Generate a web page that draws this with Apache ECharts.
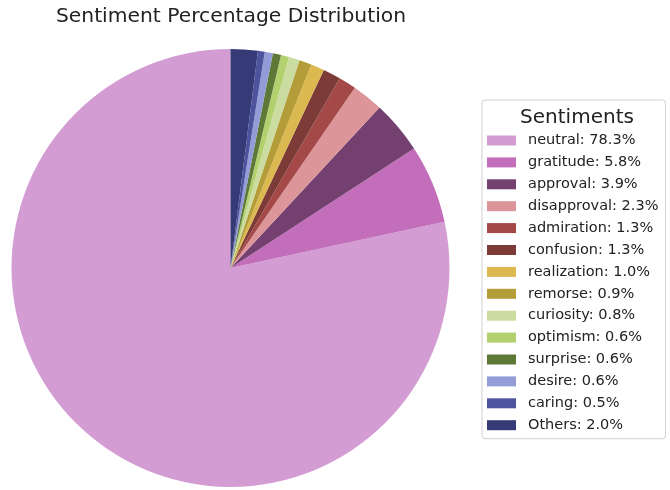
<!DOCTYPE html>
<html>
<head>
<meta charset="utf-8">
<script src="https://cdn.jsdelivr.net/npm/echarts@6/dist/echarts.min.js"></script>
<style>
  html, body { margin: 0; padding: 0; background: #fff; }
  #chart { width: 670px; height: 490px; }
</style>
</head>
<body>
<div id="chart"></div>
<script>
const sentiments = ['neutral', 'gratitude', 'approval', 'disapproval', 'admiration', 'confusion',
  'realization', 'remorse', 'curiosity', 'optimism', 'surprise', 'desire', 'caring', 'Others'];
const percents = [78.3, 5.8, 3.9, 2.3, 1.3, 1.3, 1.0, 0.9, 0.8, 0.6, 0.6, 0.6, 0.5, 2.0];
const colors = ['#d39dd3', '#c26eba', '#744070', '#dc9598', '#a44848', '#7d3b38',
  '#dcb850', '#b49c38', '#cbdca0', '#b3d06e', '#5e7838', '#949cd8', '#4e539e', '#363a76'];

const chart = echarts.init(document.getElementById('chart'));
const font = 'DejaVu Sans';

const option = {
  animation: false,
  color: colors,
  title: [
    {
      text: 'Sentiment Percentage Distribution',
      left: 226, top: 2, textAlign: 'center',
      textStyle: { fontFamily: font, fontSize: 20.3, fontWeight: 'normal', color: '#222' }
    },
    {
      text: 'Sentiments',
      left: 572, top: 103, textAlign: 'center',
      textStyle: { fontFamily: font, fontSize: 20, fontWeight: 'normal', color: '#222' }
    }
  ],
  legend: {
    orient: 'vertical',
    left: 482, top: 100,
    padding: [33, 7, 6, 5],
    borderColor: '#d0d0d0', borderWidth: 1, borderRadius: 3,
    itemWidth: 29, itemHeight: 10, itemGap: 6.9,
    icon: 'rect',
    textStyle: { fontFamily: font, fontSize: 14.5, lineHeight: 14, color: '#222', padding: [0, 0, 0, 7] },
    formatter: name => name + ': ' + percents[sentiments.indexOf(name)].toFixed(1) + '%',
    data: sentiments
  },
  series: [{
    type: 'pie',
    center: [230.5, 268],
    radius: 219,
    startAngle: 90,
    clockwise: false,
    label: { show: false },
    labelLine: { show: false },
    emphasis: { disabled: true },
    itemStyle: { borderWidth: 0 },
    data: sentiments.map((n, i) => ({ name: n, value: percents[i] }))
  }]
};
chart.setOption(option);
</script>
</body>
</html>
